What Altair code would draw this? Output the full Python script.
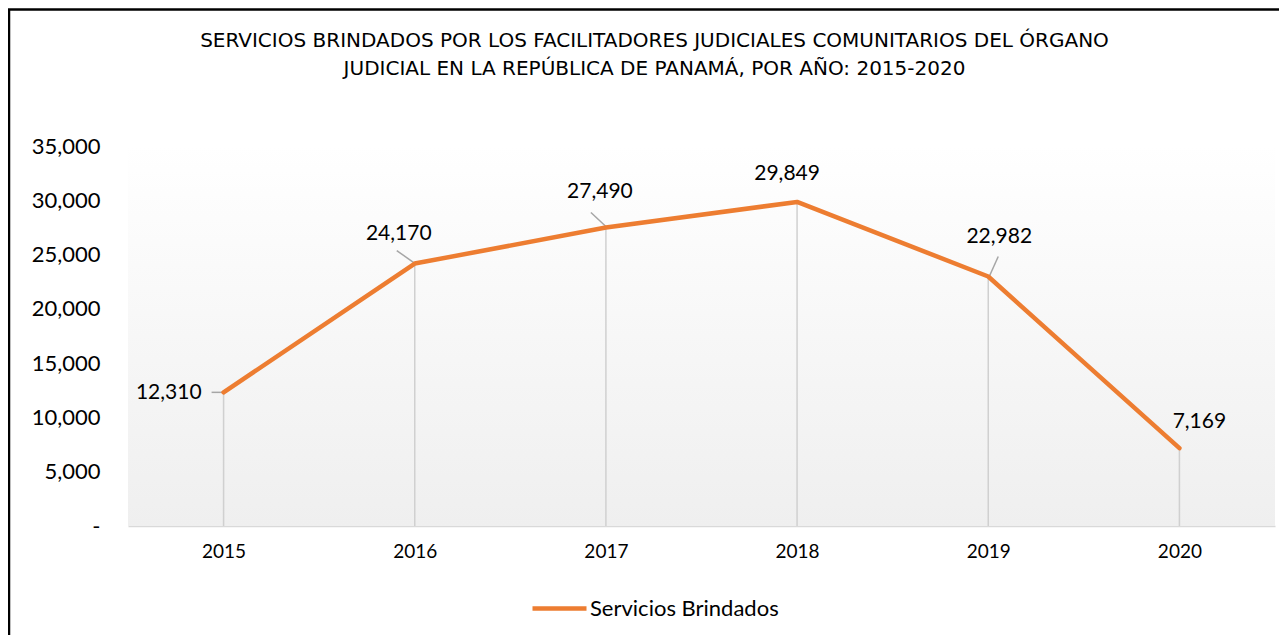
import altair as alt
import pandas as pd

years = [2015, 2016, 2017, 2018, 2019, 2020]
values = [12310, 24170, 27490, 29849, 22982, 7169]
series_name = "Servicios Brindados"
title_lines = [
    "SERVICIOS BRINDADOS POR LOS FACILITADORES JUDICIALES COMUNITARIOS DEL ÓRGANO",
    "JUDICIAL EN LA REPÚBLICA DE PANAMÁ, POR AÑO: 2015-2020",
]
y_ticks = [0, 5000, 10000, 15000, 20000, 25000, 30000, 35000]

df = pd.DataFrame({"year": years, "value": values, "serie": [series_name] * len(years)})

FONT = "Lato"
TFONT = "DejaVu Sans"
W, H = 1147, 380
ORANGE = "#ED7D31"

x_enc = alt.X("year:O", scale=alt.Scale(type="point", padding=0.5),
              axis=alt.Axis(title=None, labelAngle=0, labelFont=FONT, labelFontSize=19,
                            labelColor="#000000", labelPadding=16, ticks=False, grid=False,
                            domainColor="#d9d9d9", domainWidth=1.5))
y_enc = alt.Y("value:Q", scale=alt.Scale(domain=[0, 35000], nice=False),
              axis=alt.Axis(title=None, values=y_ticks, labelFont=FONT, labelFontSize=22,
                            labelColor="#000000", labelPadding=28, ticks=False, grid=False,
                            domain=False,
                            labelExpr="datum.value == 0 ? '-' : format(datum.value, ',')"))

base = alt.Chart(df)

bg = alt.Chart(alt.Data(values=[{}])).mark_rect(
    color=alt.LinearGradient(gradient="linear", x1=0, x2=0, y1=0, y2=1,
                             stops=[alt.GradientStop(color="#ffffff", offset=0),
                                    alt.GradientStop(color="#efefef", offset=1)])
).encode(x=alt.value(0), x2=alt.value(W), y=alt.value(0), y2=alt.value(H))

drops = base.mark_rule(color="#d0d0d0", strokeWidth=1.5).encode(
    x=x_enc, y=y_enc, y2=alt.value(H))

leaders_cfg = {
    2015: (-12, 0, -1, 0),
    2016: (-18, -13, -1, -1),
    2017: (-15, -15, 0, -1),
    2019: (10, -20, 1, 0),
}
leader_layers = []
for yr, (xo, yo, x2o, y2o) in leaders_cfg.items():
    leader_layers.append(
        base.transform_filter(alt.datum.year == yr).mark_rule(
            color="#a6a6a6", strokeWidth=1.5, xOffset=xo, yOffset=yo,
            x2Offset=x2o, y2Offset=y2o
        ).encode(x=x_enc, y=y_enc, x2=alt.X2("year:O"), y2=alt.Y2("value:Q"))
    )

line = base.mark_line(strokeWidth=4.5, strokeJoin="round", strokeCap="round").encode(
    x=x_enc, y=y_enc,
    color=alt.Color("serie:N", scale=alt.Scale(domain=[series_name], range=[ORANGE]),
                    legend=alt.Legend(title=None, orient="none", legendX=402, legendY=433,
                                      symbolType="stroke", symbolStrokeWidth=4.5,
                                      symbolSize=2916, labelFont=FONT, labelFontSize=22,
                                      labelColor="#000000", labelOffset=1, padding=0,
                                      labelLimit=0)))

labels_cfg = {
    2015: dict(dx=-22, dy=1, align="right"),
    2016: dict(dx=-16, dy=-30, align="center"),
    2017: dict(dx=-6, dy=-36, align="center"),
    2018: dict(dx=-10, dy=-28, align="center"),
    2019: dict(dx=11, dy=-39, align="center"),
    2020: dict(dx=20, dy=-26, align="center"),
}
label_layers = []
for yr, cfg in labels_cfg.items():
    label_layers.append(
        base.transform_filter(alt.datum.year == yr).mark_text(
            font=FONT, fontSize=21, color="#000000", baseline="middle", **cfg
        ).encode(x=x_enc, y=y_enc, text=alt.Text("value:Q", format=","))
    )

title = alt.Chart(alt.Data(values=[{}])).mark_text(
    font=TFONT, fontSize=20, color="#000000", align="center", baseline="middle",
    lineHeight=28
).encode(x=alt.value(526.5), y=alt.value(-105), text=alt.value(title_lines))

border_left = alt.Chart(alt.Data(values=[{}])).mark_rule(color="#000000", strokeWidth=2.5).encode(
    x=alt.value(-119), y=alt.value(-137), y2=alt.value(H + 120))
border_top = alt.Chart(alt.Data(values=[{}])).mark_rule(color="#000000", strokeWidth=2.5).encode(
    x=alt.value(-120), x2=alt.value(W + 20), y=alt.value(-136.5))

chart = alt.layer(bg, drops, *leader_layers, line, *label_layers, title,
                  border_left, border_top).properties(
    width=W, height=H,
    autosize=alt.AutoSizeParams(type="none"),
    padding={"left": 120, "top": 138, "right": 4, "bottom": 109},
    background="#ffffff",
).configure_view(stroke="transparent")

chart.save("out.html", embed_options={"renderer": "svg", "actions": False})
